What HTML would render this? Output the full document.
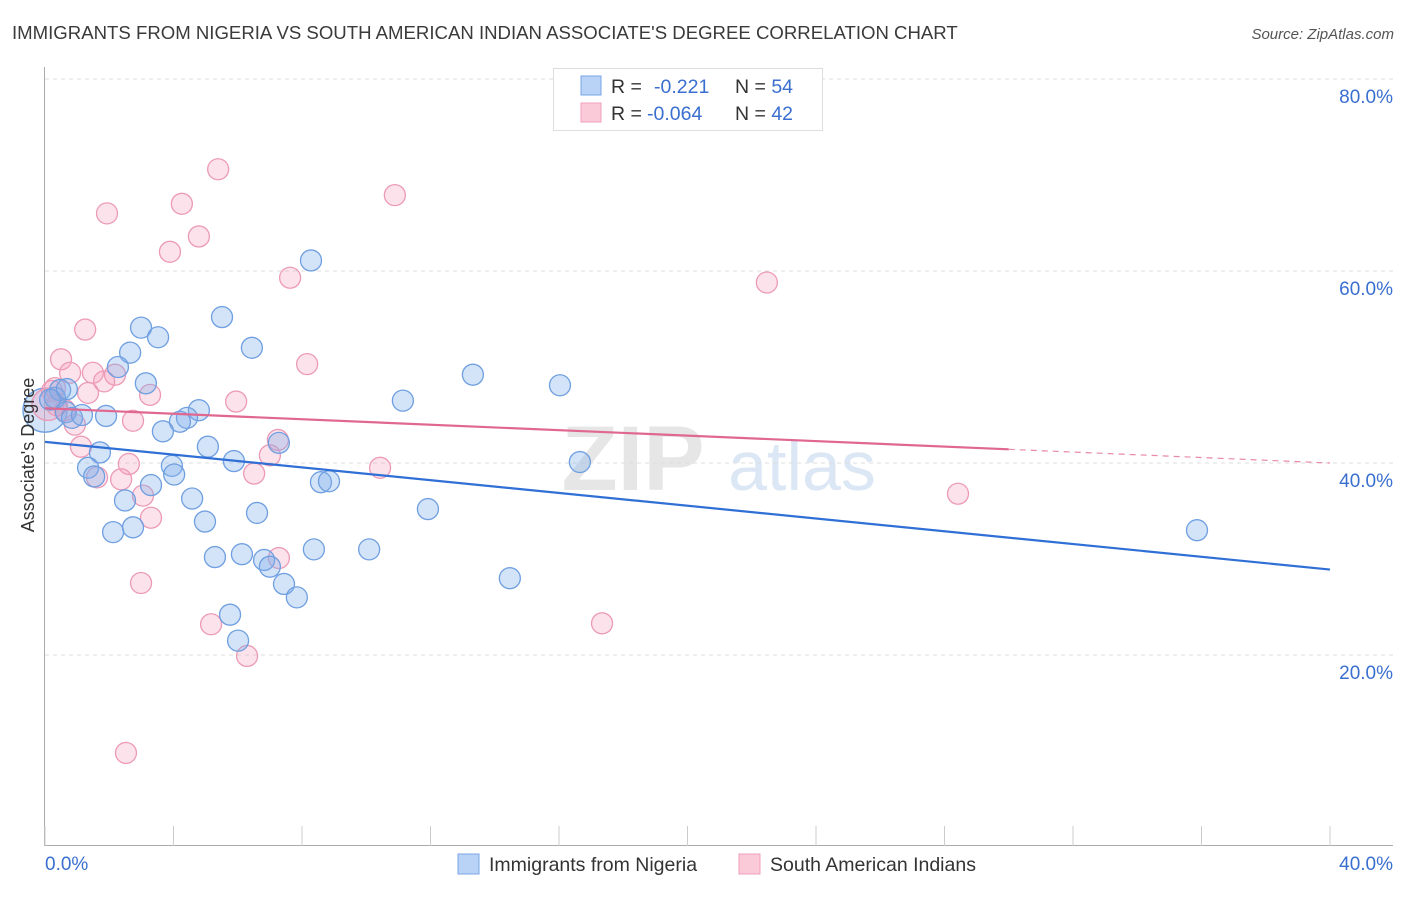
<!DOCTYPE html>
<html><head><meta charset="utf-8"><style>
body{margin:0;background:#fff;font-family:"Liberation Sans",sans-serif;}
svg text{font-family:"Liberation Sans",sans-serif;}
</style></head><body>
<svg id="chart" width="1406" height="892" xmlns="http://www.w3.org/2000/svg">
<text x="12" y="39" font-size="18.6" fill="#3a3a3a">IMMIGRANTS FROM NIGERIA VS SOUTH AMERICAN INDIAN ASSOCIATE'S DEGREE CORRELATION CHART</text>
<text x="1394" y="39" font-size="15" fill="#555" font-style="italic" text-anchor="end">Source: ZipAtlas.com</text>
<g>
<text x="633" y="490" font-size="92" fill="#e6e6e6" text-anchor="middle" font-family="Liberation Serif,serif" font-weight="bold">ZIP</text>
<text x="802" y="490" font-size="70" fill="#dce7f5" text-anchor="middle">atlas</text>
</g>
<g id="grid"></g>
<g id="axes"></g>
<g id="points"></g>
<g id="trends"></g>
<text transform="translate(34,455) rotate(-90)" font-size="18" fill="#333" text-anchor="middle">Associate's Degree</text>
<g>
<rect x="553.5" y="68.5" width="269" height="62" fill="#fff" stroke="#ddd"/>
<rect x="581" y="76" width="20" height="19" fill="#b8d3f5" stroke="#7aa6e6"/>
<text x="611" y="93" font-size="19.5" fill="#333">R = <tspan fill="#3a6fd0" x="654">-0.221</tspan><tspan fill="#333" x="735">N = </tspan><tspan fill="#3a6fd0">54</tspan></text>
<rect x="581" y="103" width="20" height="19" fill="#fbcad8" stroke="#f0a0bb"/>
<text x="611" y="120" font-size="19.5" fill="#333">R = <tspan fill="#3a6fd0" x="647">-0.064</tspan><tspan fill="#333" x="735">N = </tspan><tspan fill="#3a6fd0">42</tspan></text>
</g>
<g>
<rect x="458" y="854" width="21" height="20" fill="#b8d3f5" stroke="#7aa6e6"/>
<text x="489" y="871" font-size="19.5" fill="#333">Immigrants from Nigeria</text>
<rect x="739" y="854" width="21" height="20" fill="#fbcad8" stroke="#f0a0bb"/>
<text x="770" y="871" font-size="19.5" fill="#333">South American Indians</text>
</g>
</svg>
<script>
const yTicks=[20,40,60,80];
const xTickLabels=["0.0%","40.0%"];
const blueX=[8.28,2.99,3.52,5.51,6.44,2.65,2.27,3.14,13.32,16.03,11.14,0.47,0.31,0.65,0.84,1.15,1.90,4.79,4.42,4.20,3.67,5.07,7.28,1.71,1.34,3.95,4.02,1.53,5.88,16.65,8.59,8.84,3.30,2.49,4.58,11.92,6.60,4.98,2.74,2.12,8.37,10.09,6.13,5.29,6.82,7.00,14.47,7.44,7.84,5.76,6.01,35.86,0.16,0.68];
const blueY=[61.1,54.1,53.1,55.2,52.0,51.5,50.0,48.3,49.2,48.1,46.5,47.6,46.8,45.3,44.7,45.0,44.9,45.5,44.7,44.3,43.3,41.7,42.1,41.1,39.5,39.7,38.8,38.6,40.2,40.1,38.0,38.1,37.7,36.1,36.3,35.2,34.8,33.9,33.3,32.8,31.0,31.0,30.5,30.2,29.9,29.2,28.0,27.4,26.0,24.2,21.5,33.0,46.6,47.7];
const pinkX=[5.39,10.89,4.26,1.93,4.79,3.89,7.63,22.47,1.25,0.50,8.16,0.78,1.49,2.18,1.84,3.27,5.95,1.34,0.22,0.37,2.74,0.93,7.25,1.12,7.00,2.61,10.43,6.51,1.62,2.37,3.05,28.42,3.30,7.28,2.99,5.17,17.34,6.29,2.52,0.31,0.62];
const pinkY=[70.6,67.9,67.0,66.0,63.6,62.0,59.3,58.8,53.9,50.8,50.3,49.4,49.4,49.2,48.5,47.1,46.4,47.3,47.5,46.0,44.4,44.0,42.4,41.7,40.8,39.9,39.5,38.9,38.5,38.3,36.6,36.8,34.3,30.1,27.5,23.2,23.3,19.9,9.8,47.8,45.5];
const bigBlue=[0,45.5];
const bigPink=[0.09,46.1];
const blueTrend=[42.2,28.9];
const pinkTrend=[45.7,40.0];
const pinkSolidEnd=30;

const NS="http://www.w3.org/2000/svg";
const sx=v=>45+v*32.125;
const sy=v=>847-v*9.6;
function mk(tag,attrs,parent){const e=document.createElementNS(NS,tag);for(const k in attrs)e.setAttribute(k,attrs[k]);parent.appendChild(e);return e;}
const grid=document.getElementById('grid'),axes=document.getElementById('axes'),pts=document.getElementById('points'),tr=document.getElementById('trends');
yTicks.forEach(t=>{
 const l=mk('line',{x1:45,x2:1393,y1:sy(t),y2:sy(t),stroke:'#ddd','stroke-dasharray':'4,4'},grid);
 
 
 const tx=mk('text',{x:1393,y:sy(t)+24,'font-size':19,fill:'#3a6fd0','text-anchor':'end'},axes);
 tx.textContent=t.toFixed(1)+'%';
 
 
});
const ya=mk('line',{x1:44.5,x2:44.5,y1:67,y2:846,stroke:'#aaa'},axes);


const xa=mk('line',{x1:44,x2:1393,y1:845.5,y2:845.5,stroke:'#aaa'},axes);


for(let i=0;i<=10;i++){
 const t=mk('line',{x1:sx(i*4),x2:sx(i*4),y1:826,y2:846,stroke:'#ccc'},axes);
 
 
}
xTickLabels.forEach((s,i)=>{
 const tx=mk('text',{x:i?1393:45,y:870,'font-size':19,fill:'#3a6fd0','text-anchor':i?'end':'start'},axes);
 tx.textContent=s;
 
 
});
function dot(x,y,r,c){
 const e=mk('circle',{cx:sx(x),cy:sy(y),r:r,fill:c[0],stroke:c[1],'stroke-width':1.3},pts);
 return e;
}
const BC=['rgba(130,175,235,0.35)','#6f9fe0'],PC=['rgba(245,160,190,0.3)','#ec9ab6'];
let b=dot(bigBlue[0],bigBlue[1],22,BC);


let p=dot(bigPink[0],bigPink[1],16,PC);


pinkX.forEach((x,i)=>{
 const e=dot(x,pinkY[i],10.5,PC);
 
 
});
blueX.forEach((x,i)=>{
 const e=dot(x,blueY[i],10.5,BC);
 
 
});
const bl=mk('line',{x1:sx(0),y1:sy(blueTrend[0]),x2:sx(40),y2:sy(blueTrend[1]),stroke:'#2f6fd6','stroke-width':2.2},tr);


const pAt=x=>pinkTrend[0]+(pinkTrend[1]-pinkTrend[0])*x/40;
const pl=mk('line',{x1:sx(0),y1:sy(pinkTrend[0]),x2:sx(pinkSolidEnd),y2:sy(pAt(pinkSolidEnd)),stroke:'#e06890','stroke-width':2.2},tr);


const pd=mk('line',{x1:sx(pinkSolidEnd),y1:sy(pAt(pinkSolidEnd)),x2:sx(40),y2:sy(pinkTrend[1]),stroke:'#e88aa8','stroke-width':1.2,'stroke-dasharray':'6,5'},tr);


</script>
</body></html>
